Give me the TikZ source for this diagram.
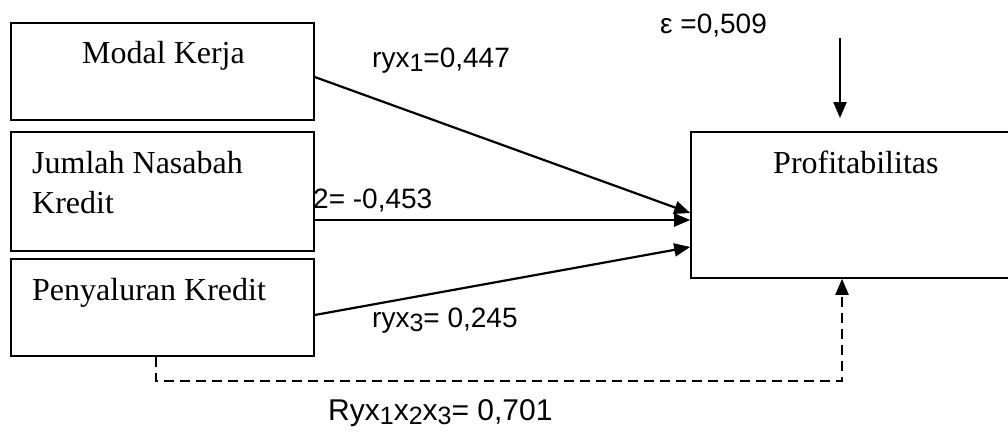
\documentclass[tikz,border=0pt]{standalone}
\usepackage{fontspec}
\setmainfont{Liberation Serif}
\newfontfamily\arialf{Liberation Sans}
\usetikzlibrary{arrows.meta,calc}
\newcommand{\lsub}[1]{\raisebox{-4pt}{\fontsize{25}{25}\selectfont #1}}
\tikzset{
  box/.style={draw, line width=1.6pt, rectangle, inner sep=0pt},
  boxtext/.style={inner sep=0pt, anchor=base west, font=\fontsize{32}{38}\selectfont},
  lab/.style={inner sep=0pt, anchor=base west, font=\arialf\fontsize{28}{30}\selectfont},
  biglab/.style={inner sep=0pt, anchor=base west, font=\arialf\fontsize{30}{32}\selectfont},
  arr/.style={line width=2.2pt, -{Triangle[length=16pt,width=13pt]}},
  dashline/.style={line width=2.2pt, dash pattern=on 10pt off 6pt, -{Triangle[length=16pt,width=13pt]}}
}
\begin{document}
\begin{tikzpicture}[x=1pt,y=-1pt]
\useasboundingbox (0,0) rectangle (1008,432);
\clip (0,0) rectangle (1008,432);
% boxes
\node[box, minimum width=303pt, minimum height=97pt] (mk) at (162.5,71.5) {};
\node[box, minimum width=303pt, minimum height=119pt] (jn) at (162.5,191.5) {};
\node[box, minimum width=303pt, minimum height=97pt] (pk) at (162.5,307.5) {};
\node[box, minimum width=324pt, minimum height=146pt] (pf) at (853,205) {};
% box texts
\node[boxtext] (tmk) at (82,63) {Modal Kerja};
\node[boxtext] (tjn1) at (32,173) {Jumlah Nasabah};
\node[boxtext] (tjn2) at (32,213) {Kredit};
\node[boxtext] (tpk) at (32,300) {Penyaluran Kredit};
\node[boxtext] (tpf) at (773,173) {Profitabilitas};
% arrows
\draw[arr] ($(mk.east)+(0,5.5)$) -- ($(pf.west)+(0,8)$);
\draw[arr] ($(jn.east)+(0,28.5)$) -- ($(pf.west)+(0,15)$);
\draw[arr] ($(pk.east)+(0,7.5)$) -- ($(pf.west)+(0,42)$);
% epsilon
\node[lab] (eps) at (660,33) {ε =0,509};
\coordinate (etop) at (840,38);
\coordinate (etip) at (840,118);
\draw[arr] (etop) -- (etip);
% dashed
\coordinate (dcorner) at (842,381);
\draw[dashline] ($(pk.south west)+(146,0)$) |- (dcorner) -- (dcorner |- pf.south);
% labels
\node[lab] (l1) at (372,67) {ryx\lsub{1}=0,447};
\node[lab] (l2) at (313,208) {2= -0,453};
\node[lab] (l3) at (372,327) {ryx\lsub{3}= 0,245};
\node[biglab] (l4) at (328,420) {Ryx\lsub{1}x\lsub{2}x\lsub{3}= 0,701};
\end{tikzpicture}
\end{document}
